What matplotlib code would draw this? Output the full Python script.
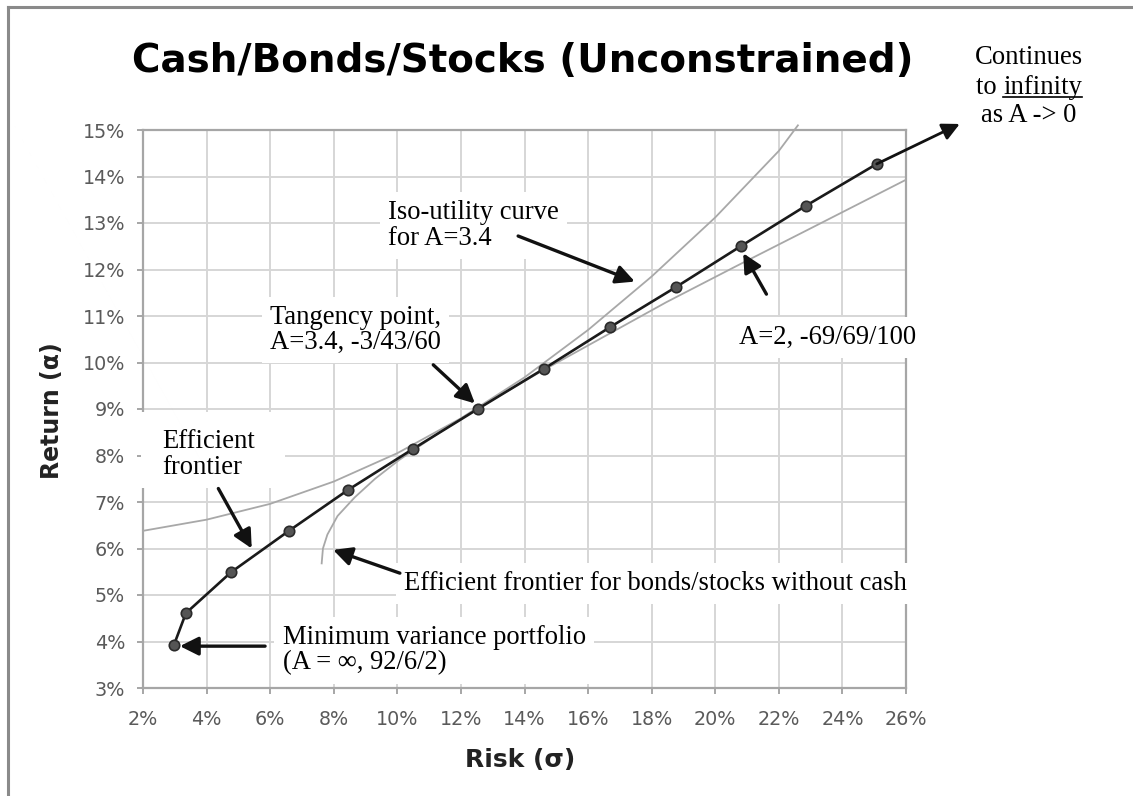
import matplotlib
matplotlib.use("Agg")
import matplotlib.pyplot as plt
from matplotlib.lines import Line2D
from matplotlib.patches import Rectangle
from matplotlib.ticker import FuncFormatter

# ---------------- data (percent) ----------------
frontier_risk = [2.97, 3.35, 4.77, 6.59, 8.45, 10.49, 12.53, 14.60, 16.69, 18.76, 20.80, 22.85, 25.08]
frontier_ret = [3.92, 4.61, 5.49, 6.38, 7.26, 8.14, 9.00, 9.86, 10.76, 11.62, 12.50, 13.37, 14.27]

iso_risk = [2.0, 4.0, 6.0, 8.0, 10.0, 12.0, 14.0, 16.0, 18.0, 20.0, 22.0, 22.6]
iso_ret = [6.38, 6.62, 6.96, 7.44, 8.05, 8.80, 9.68, 10.70, 11.85, 13.12, 14.55, 15.10]

bs_risk = [7.62, 7.66, 7.80, 8.12, 8.66, 9.30, 10.05, 11.34, 12.50, 14.50, 16.30, 18.47, 20.74, 22.90, 26.00]
bs_ret = [5.68, 6.00, 6.30, 6.70, 7.10, 7.50, 7.90, 8.50, 9.00, 9.80, 10.48, 11.30, 12.10, 12.85, 13.93]

x_ticks = [2, 4, 6, 8, 10, 12, 14, 16, 18, 20, 22, 24, 26]
y_ticks = [3, 4, 5, 6, 7, 8, 9, 10, 11, 12, 13, 14, 15]

title = "Cash/Bonds/Stocks (Unconstrained)"
x_label = "Risk (σ)"
y_label = "Return (α)"

# ---------------- figure ----------------
W, H = 1133, 796
fig = plt.figure(figsize=(W / 100, H / 100), dpi=100)
fig.patch.set_facecolor("white")

def px(xp, yp):
    return (xp / W, 1 - yp / H)

ax = fig.add_axes([143 / W, 1 - 688 / H, (906 - 143) / W, (688 - 130) / H])
ax.set_xlim(x_ticks[0], x_ticks[-1])
ax.set_ylim(y_ticks[0], y_ticks[-1])
ax.set_xticks(x_ticks)
ax.set_yticks(y_ticks)
pct = FuncFormatter(lambda v, p: f"{v:.0f}%")
ax.xaxis.set_major_formatter(pct)
ax.yaxis.set_major_formatter(pct)
ax.set_axisbelow(True)
ax.grid(True, color="#d6d6d6", lw=1.4)
for s in ax.spines.values():
    s.set_color("#a6a6a6")
    s.set_linewidth(1.6)
ax.tick_params(axis="both", colors="#a6a6a6", length=4, width=1.4,
               labelcolor="#5a5a5a", labelsize=13.8)
ax.tick_params(axis="x", pad=12)
ax.tick_params(axis="y", pad=9)

serif = ["Liberation Serif", "DejaVu Serif"]
tsize = 19.2

# curves
ax.plot(iso_risk, iso_ret, color="#a8a8a8", lw=1.3, zorder=3, clip_on=False)
ax.plot(bs_risk, bs_ret, color="#a8a8a8", lw=1.3, zorder=3)
ax.plot(frontier_risk, frontier_ret, color="#1a1a1a", lw=1.9, zorder=4,
        marker="o", markersize=7.5, markerfacecolor="#555555",
        markeredgecolor="#2a2a2a", markeredgewidth=1.2)

# continuation arrow
ax.annotate("", xy=(27.69, 15.13), xytext=(frontier_risk[-1], frontier_ret[-1]),
            arrowprops=dict(arrowstyle="-|>", color="#111111", lw=2.0,
                            mutation_scale=26, shrinkA=0, shrinkB=0),
            annotation_clip=False, zorder=5)

box = dict(facecolor="white", edgecolor="none", pad=6)

def label(x, y, s, **kw):
    ax.text(x, y, s, fontfamily=serif, fontsize=tsize, color="black",
            va="top", ha="left", linespacing=1.02, bbox=box, zorder=2.7, **kw)

def arrow(tail, tip):
    ax.annotate("", xy=tip, xytext=tail,
                arrowprops=dict(arrowstyle="-|>", color="#111111", lw=2.4,
                                mutation_scale=28, shrinkA=0, shrinkB=0),
                annotation_clip=False, zorder=6)

# white text box behind "Efficient frontier" that also hides the left spine
ax.add_patch(Rectangle((2.0 - 2 / 31.8, 7.30), (285 - 141) / 31.8, 1.64,
                       facecolor="white", edgecolor="none", zorder=2.65,
                       clip_on=False))

label(9.70, 13.49, "Iso-utility curve\nfor A=3.4")
arrow((13.80, 12.72), (17.47, 11.74))

label(5.99, 11.24, "Tangency point,\nA=3.4, -3/43/60")
arrow((11.13, 9.95), (12.44, 9.12))

label(20.75, 10.81, "A=2, -69/69/100")
arrow((21.61, 11.47), (20.88, 12.35))

label(2.61, 8.56, "Efficient\nfrontier")
arrow((4.37, 7.29), (5.42, 6.00))

label(10.21, 5.52, "Efficient frontier for bonds/stocks without cash")
arrow((10.08, 5.47), (7.98, 5.97))

label(6.39, 4.35, "Minimum variance portfolio\n(A = ∞, 92/6/2)")
arrow((5.84, 3.90), (3.16, 3.90))

# outside texts
fig.text(*px(523, 61), title, ha="center", va="center", fontsize=28,
         fontweight="bold", color="black")
fig.text(*px(520, 760), x_label, ha="center", va="center", fontsize=18,
         fontweight="bold", color="#222222")
fig.text(*px(52, 411), y_label, ha="center", va="center", fontsize=17,
         fontweight="bold", color="#222222", rotation=90)

cx = 1029
fig.text(*px(cx, 57), "Continues", ha="center", va="center",
         fontfamily=serif, fontsize=tsize)
t_to = fig.text(*px(cx - 36, 87), "to ", ha="left", va="center",
                fontfamily=serif, fontsize=tsize)
fig.canvas.draw()
r = fig.canvas.get_renderer()
bb = t_to.get_window_extent(r)
t_inf = fig.text(bb.x1 / W, 1 - 87 / H, "infinity", ha="left", va="center",
                 fontfamily=serif, fontsize=tsize)
fig.text(*px(cx, 115), "as A -> 0", ha="center", va="center",
         fontfamily=serif, fontsize=tsize)
fig.canvas.draw()
bi = t_inf.get_window_extent(r)
tot_w = bi.x1 - bb.x0
shift = (cx - (bb.x0 + tot_w / 2))
t_to.set_x((bb.x0 + shift) / W)
t_inf.set_x((bi.x0 + shift) / W)
uy = bi.y0 + 3
fig.add_artist(Line2D([(bi.x0 + shift) / W, (bi.x1 + shift) / W], [uy / H, uy / H],
                      color="black", lw=1.2))

# figure frame (top and left edges)
fig.add_artist(Line2D([8 / W, 1], [1 - 7 / H, 1 - 7 / H], color="#8a8a8a", lw=2.2))
fig.add_artist(Line2D([8 / W, 8 / W], [0, 1 - 7 / H], color="#8a8a8a", lw=2.2))

fig.savefig("out.png", dpi=100, facecolor="white")
